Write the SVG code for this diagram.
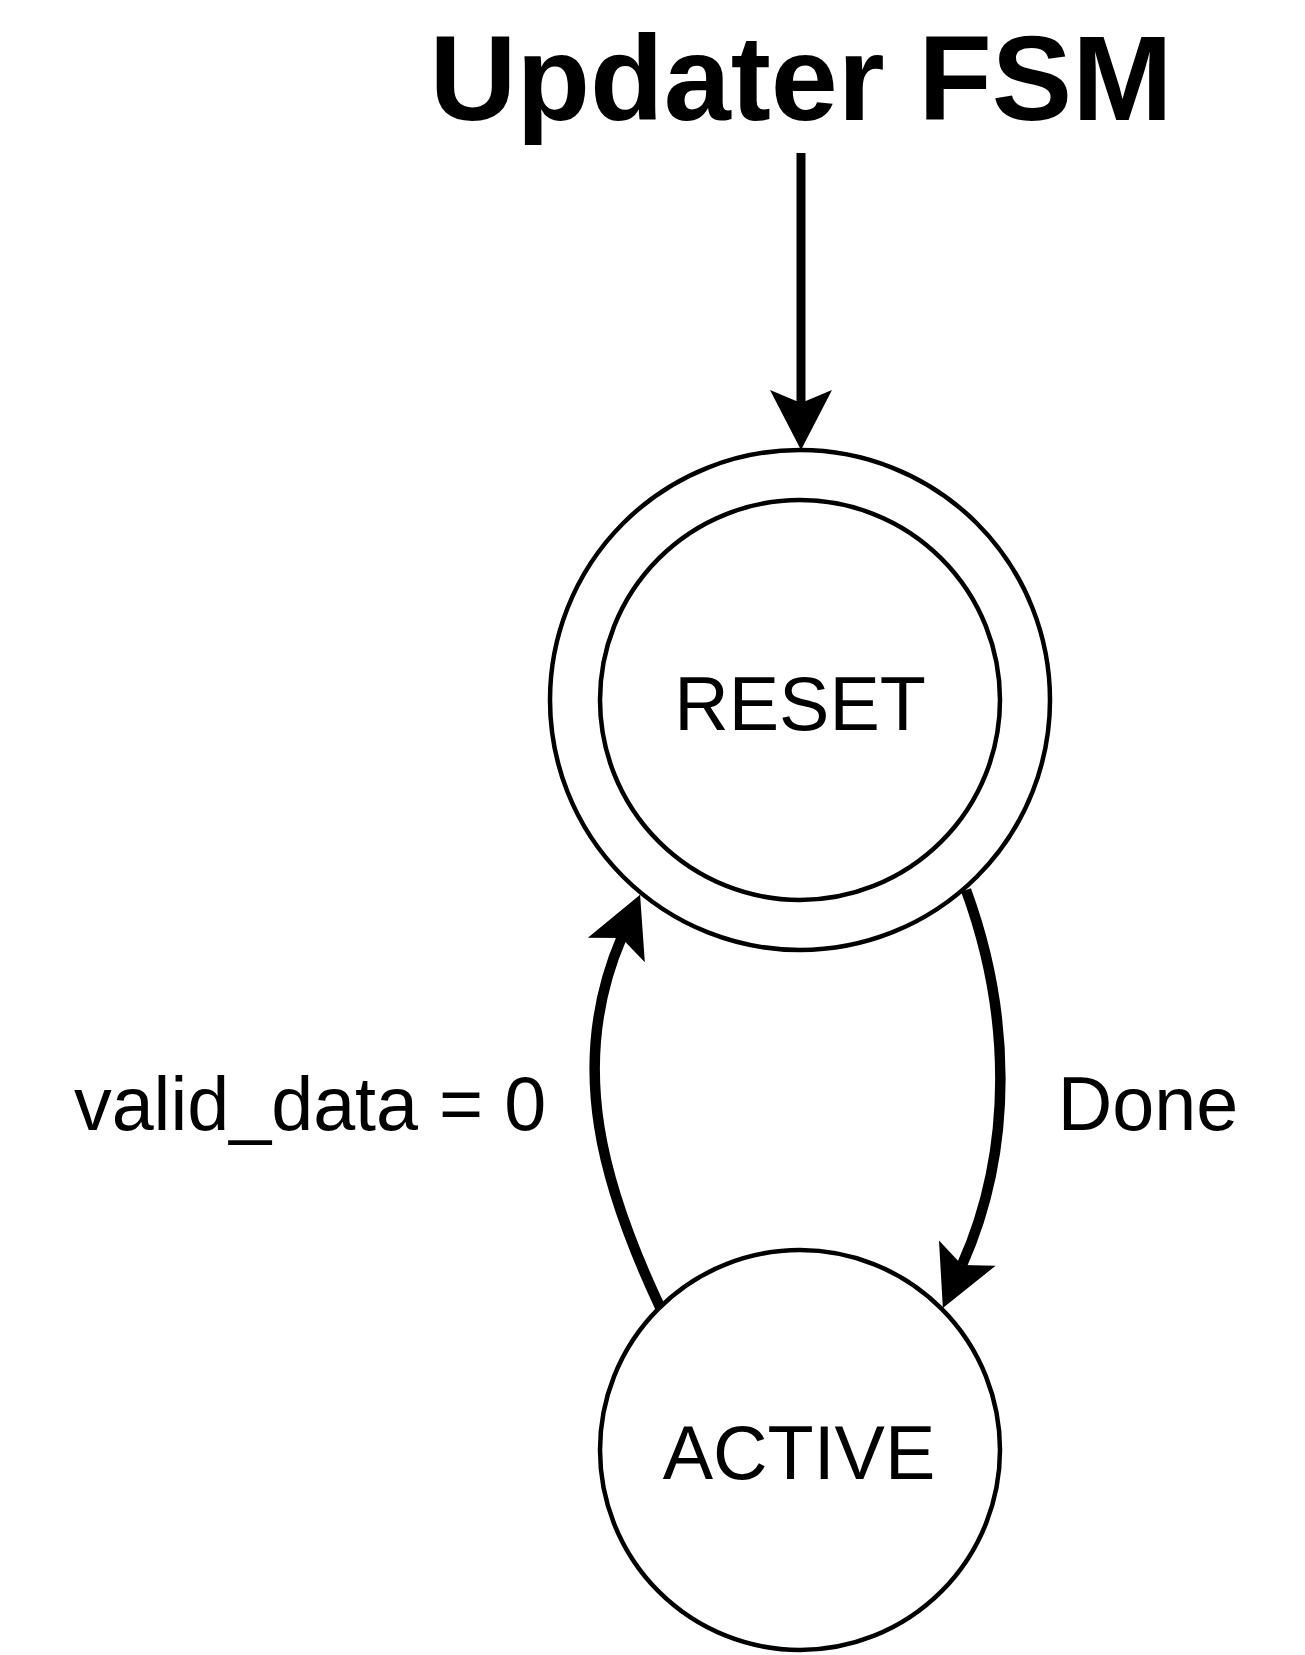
<svg xmlns="http://www.w3.org/2000/svg" width="1305" height="1655" viewBox="0 0 1305 1655">
<style>
.state{fill:#fff;stroke:#000;stroke-width:4.5}
.lbl{font-family:"Liberation Sans",Arial,sans-serif;font-size:75.5px;fill:#000;text-anchor:middle}
.title{font-family:"Liberation Sans",Arial,sans-serif;font-size:120.5px;font-weight:bold;fill:#000;text-anchor:middle}
.edge{fill:none;stroke:#000}
</style>
<defs>
<marker id="arr" markerUnits="userSpaceOnUse" markerWidth="80" markerHeight="80" refX="13" refY="0" orient="auto" overflow="visible">
<path d="M0,-31 L60,0 L0,31 L13,0 Z" fill="#000"/>
</marker>
</defs>
<rect width="1305" height="1655" fill="#fff"/>
<text class="title" x="801" y="120">Updater FSM</text>
<g id="reset">
<circle class="state" cx="800" cy="700" r="250"/>
<circle class="state" cx="800" cy="700" r="200"/>
<text class="lbl" x="800" y="730">RESET</text>
</g>
<g id="active">
<circle class="state" cx="800" cy="1450" r="200"/>
<text class="lbl" x="799" y="1479">ACTIVE</text>
</g>
<g id="connectors">
<path class="edge" stroke-width="9" d="M801,153 L801,403" marker-end="url(#arr)"/>
<path class="edge" stroke-width="10.5" d="M966,890 C1010,1010 1015,1146 962,1265" marker-end="url(#arr)"/>
<path class="edge" stroke-width="10.5" d="M660,1307 C605,1190 566,1067 621.5,938" marker-end="url(#arr)"/>
<text class="lbl" x="1148" y="1130">Done</text>
<text class="lbl" x="310" y="1130">valid_data = 0</text>
</g>
</svg>
